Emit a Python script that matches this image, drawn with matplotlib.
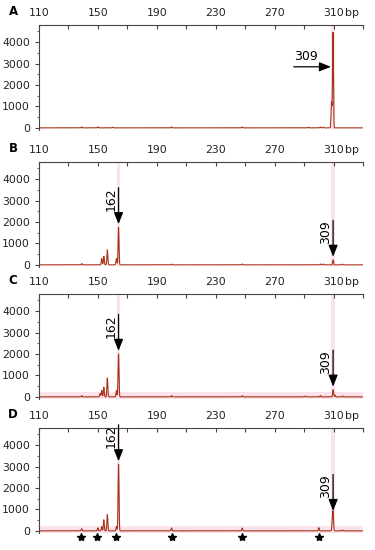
import numpy as np
import matplotlib.pyplot as plt
from matplotlib.ticker import MultipleLocator

# peak positions (bp) and heights (RFU)
peaks_a_bp = [139, 150, 160, 200, 248, 293, 301, 303, 308.6, 309.6]
peaks_a_h = [40, 50, 30, 40, 40, 30, 40, 30, 1200, 4450]

peaks_b_bp = [139, 152.6, 154, 156.4, 162.6, 164, 200, 248, 301, 303, 309.7, 316]
peaks_b_h = [60, 300, 400, 700, 300, 1750, 30, 40, 40, 40, 230, 30]

peaks_c_bp = [139, 151.5, 152.6, 154, 156.4, 162.6, 164, 200, 248, 291, 301, 309.7, 311, 316]
peaks_c_h = [60, 150, 300, 450, 880, 300, 2000, 60, 50, 40, 60, 330, 80, 40]

peaks_d_bp = [139, 150, 152.6, 154, 156.4, 162.6, 164, 200, 248, 300, 309.2, 309.7, 316]
peaks_d_h = [100, 140, 200, 520, 760, 200, 3100, 140, 130, 150, 500, 780, 40]

labels = ["A", "B", "C", "D"]
panels = [(peaks_a_bp, peaks_a_h), (peaks_b_bp, peaks_b_h),
          (peaks_c_bp, peaks_c_h), (peaks_d_bp, peaks_d_h)]
arrows = [[309], [162, 309], [162, 309], [162, 309]]
arrow_at = [[309.6], [164, 309.7], [164, 309.7], [164, 309.7]]
stars_d = [138.5, 149.5, 162, 200, 248, 300]

x_ticks = [110, 130, 150, 170, 190, 210, 230, 250, 270, 290, 310, 330]
x_labels = ["110", "", "150", "", "190", "", "230", "", "270", "", "310", ""]
y_ticks = [0, 1000, 2000, 3000, 4000]

trace_col = "#a83218"
pink = "#fbe3ee"
head = "-|>,head_width=0.28,head_length=0.7"

fig = plt.figure(figsize=(3.75, 5.5), dpi=100)
tops = [25, 162, 294, 428]
h = 105

bp = np.arange(110, 330.01, 0.05)
for i, (lab, (pk_x, pk_h)) in enumerate(zip(labels, panels)):
    ax = fig.add_axes([39 / 375, 1 - (tops[i] + h) / 550, 324 / 375, h / 550])
    trace = np.zeros_like(bp)
    for p, hh in zip(pk_x, pk_h):
        trace += hh * np.exp(-0.5 * ((bp - p) / 0.3) ** 2)
    # light highlight bands like the analysis software
    if i >= 2:
        ax.axhspan(-100, 250, color=pink, zorder=0, lw=0)
    for a in arrow_at[i]:
        ax.axvspan(a - 1.2, a + 1.2, color=pink, zorder=0, lw=0)
    ax.plot(bp, trace, color=trace_col, lw=0.8)

    ax.set_xlim(110, 330)
    ax.set_ylim(-100, 4800)
    ax.xaxis.tick_top()
    ax.set_xticks(x_ticks)
    ax.set_xticklabels(x_labels)
    ax.set_yticks(y_ticks)
    ax.yaxis.set_minor_locator(MultipleLocator(500))
    ax.tick_params(axis="x", direction="in", length=3, labelsize=7.8, pad=5,
                   colors="#444444", labelcolor="#222222")
    ax.tick_params(axis="y", direction="out", length=3, labelsize=7.8,
                   colors="#444444", labelcolor="#222222")
    ax.tick_params(axis="y", which="minor", direction="out", length=1.5, color="#444444")
    for s in ["bottom", "right"]:
        ax.spines[s].set_visible(False)
    for s in ["top", "left"]:
        ax.spines[s].set_color("#444444")
        ax.spines[s].set_linewidth(0.8)
    ax.annotate("bp", xy=(322.5, 1.0), xycoords=ax.get_xaxis_transform(),
                xytext=(0, 5), textcoords="offset points", fontsize=7.8,
                va="bottom", ha="center", color="#222222")
    ax.annotate(lab, xy=(-0.08, 1.0), xycoords="axes fraction",
                xytext=(0, 5), textcoords="offset points", fontsize=8.5,
                fontweight="bold", va="bottom", ha="center")

    if i == 0:
        ax.annotate("", xy=(308.2, 2850), xytext=(283, 2850),
                    arrowprops=dict(arrowstyle=head, color="black", lw=0.9,
                                    shrinkA=0, shrinkB=0))
        ax.text(291.5, 3050, "309", fontsize=9, ha="center", va="bottom")
    else:
        for name, at in zip(arrows[i], arrow_at[i]):
            idx = pk_x.index(at)
            tip = pk_h[idx] + 150
            tail = tip + 1700
            ax.annotate("", xy=(at, tip), xytext=(at, tail),
                        arrowprops=dict(arrowstyle=head, color="black", lw=0.9,
                                        shrinkA=0, shrinkB=0))
            ax.text(at - 5, tip + 1150, str(name), rotation=90, fontsize=9,
                    ha="center", va="center")

    if i == 3:
        ax.plot(stars_d, [-300] * len(stars_d), ls="none", marker="*",
                color="black", ms=6, clip_on=False)

fig.savefig("out.png", dpi=100)
